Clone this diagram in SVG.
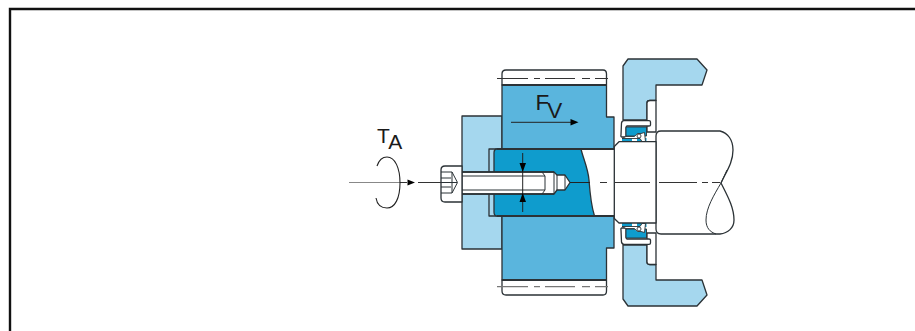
<svg xmlns="http://www.w3.org/2000/svg" width="915" height="331" viewBox="0 0 915 331">
<style>
.o{stroke:#2b3236;stroke-width:1.300;stroke-linejoin:round}
.s{stroke:#2b3236;stroke-width:.9;stroke-linejoin:round}
.t{fill:none;stroke:#2b3236;stroke-width:1}
.lt{fill:#a5d7ee}.md{fill:#5ab5dd}.dk{fill:#0f9ccd}.w{fill:#fff}
.lab{font-family:"Liberation Sans",Arial,sans-serif;font-size:22.500px;fill:#1a1a1a}
.ah{fill:#000}
</style>
<rect width="915" height="331" fill="#fff"/>
<path d="M10 331V9H915" fill="none" stroke="#111" stroke-width="2.400"/>
<g id="washer">
<rect class="lt o" x="462" y="116" width="40" height="133"/>
<path class="lt o" d="M489 149H502V216H489Z"/>
</g>
<g id="gear">
<path class="w o" d="M506 70H603Q606.500 70 606.500 74V85H502V74Q502 70 506 70Z"/>
<path class="w o" d="M502 280H606.500V291Q606.500 295 603 295H506Q502 295 502 291Z"/>
<path class="md o" d="M502 85H606.500V117H614V248H606.500V280H502Z"/>
<path d="M502 85H606.500M502 280H606.500" fill="none" stroke="#2b3236" stroke-width="2"/>
<path class="w" d="M581 149H614V216H594Z"/>
<path class="dk o" d="M497 149H581C583 158 588 168 589 180C590 194 591 205 594.500 216H497Q494 216 494 212V153Q494 149 497 149Z"/>
<path d="M497 149H614M497 216H614" fill="none" stroke="#2b3236" stroke-width="1.800"/>
<path d="M497 78.500H528M534 78.500H540M545 78.500H575M582 78.500H590M595 78.500H608" fill="none" stroke="#333" stroke-width="1"/>
<path d="M497 286.700H528M534 286.700H540M545 286.700H575M582 286.700H590M595 286.700H608" fill="none" stroke="#777" stroke-width="1.200"/>
</g>
<g id="shaft">
<path class="w o" d="M656 136Q656 131 661 131H720C728 133 733 140 733 150C733 163 726 172 721 183C727 195 734 207 734 220C734 228 728 233 720 234H661Q656 234 656 229Z"/>
<path class="t" d="M721 183C714 195 706 208 706 220C706 228 710 232 716 234M721 183L727 170"/>
</g>
<g id="cover">
<path class="lt o" d="M628 59H697L707 70L702 85H656V100.500H650Q647 100.500 647 103V120H623V66Z"/>
<path class="lt o" d="M623 245H647V262Q647 264.500 650 264.500H656V280H702L707 295L697 306H628L623 299Z"/>
<path class="w o" d="M647 103Q647 100.500 650 100.500H656V132H647Z"/>
<path class="w o" d="M647 262Q647 264.500 650 264.500H656V233H647Z"/>
</g>
<g id="seal-top">
<path class="w o" d="M624 120.700H649Q650.500 120.700 650.500 122V125Q650.500 126 649 126H627Q626 126 626 128V137H622Q620.500 137 621 135L621.500 123Q622 120.700 624 120.700Z"/>
<path class="dk s" d="M626 127H646.500V136H626Z"/>
<path class="dk" d="M622 138H632V142H622ZM637 138H646.500V142H637Z"/>
<path class="w s" d="M626 136.500H634.500Q637 132 641 133.500L644.500 132.500L645.500 141.500H642L640 138.500L622 138.500Z"/>
<circle class="w s" cx="639" cy="136" r="2"/>
</g>
<g id="seal-bottom">
<path class="w o" d="M624 244.300H649Q650.500 244.300 650.500 243V240Q650.500 239 649 239H627Q626 239 626 237V228H622Q620.500 228 621 230L621.500 242Q622 244.300 624 244.300Z"/>
<path class="dk s" d="M626 238H646.500V229H626Z"/>
<path class="dk" d="M622 227H632V223H622ZM637 227H646.500V223H637Z"/>
<path class="w s" d="M626 228.500H634.500Q637 233 641 231.500L644.500 232.500L645.500 223.500H642L640 226.500L622 226.500Z"/>
<circle class="w s" cx="639" cy="229" r="2"/>
</g>
<g id="ring">
<path class="w o" d="M619 141.700H656V223H619L614.300 218.500V146.500Z"/>
</g>
<g id="bolt">
<path class="w o" d="M462 172H542L554 172L557 175H565L570 182.500L565 190H557L554 194H462Z"/>
<path class="t" d="M462 176H545M462 190H545M542 172L545 176V190L542 194M554 172V194M557 175V190M565 175V190"/>
<path d="M462 172H554M462 194H554" fill="none" stroke="#2b3236" stroke-width="1.600"/>
<path class="w o" d="M445 166H462V202H445Q441 202 441 198V170Q441 166 445 166Z"/>
<path class="t" d="M441 172H452L457.500 182.500L452 193H441M452 172V193M441 178H451M441 182.500H457M441 187H451"/>
</g>
<g id="connectors">
<path d="M349 182.500H400" fill="none" stroke="#888" stroke-width="1"/>
<path d="M400 182.500H407M418 182.500H441" fill="none" stroke="#333" stroke-width="1"/>
<path class="ah" d="M407.500 179.500L415 182.500L407.500 185.500Z"/>
<path d="M377 166C379 160 383 157 387 157C395 157 400 168 400 183C400 198 395 208 387 208C381 208 377 204 376 198" fill="none" stroke="#222" stroke-width="1.100"/>
<path d="M570 182.500H590" fill="none" stroke="#222" stroke-width="1"/>
<path d="M600 182.500H607M615 182.500H650M659 182.500H697M702 182.500H708M712 182.500H720" fill="none" stroke="#333" stroke-width="1"/>
<path d="M511 122.300H571" fill="none" stroke="#222" stroke-width="1"/>
<path class="ah" d="M570.500 119L578.500 122.300L570.500 125.600Z"/>
<path d="M522.700 153V212" fill="none" stroke="#222" stroke-width="1"/>
<path class="ah" d="M519.500 163H526L522.700 172Z"/>
<path class="ah" d="M519.500 202H526L522.700 193Z"/>
</g>
<g id="labels">
<text class="lab" x="377" y="143" style="font-size:21px">T<tspan dy="6" style="font-size:21px">A</tspan></text>
<text class="lab" x="535.500" y="110">F<tspan dx="-2" dy="8">V</tspan></text>
</g>
</svg>
